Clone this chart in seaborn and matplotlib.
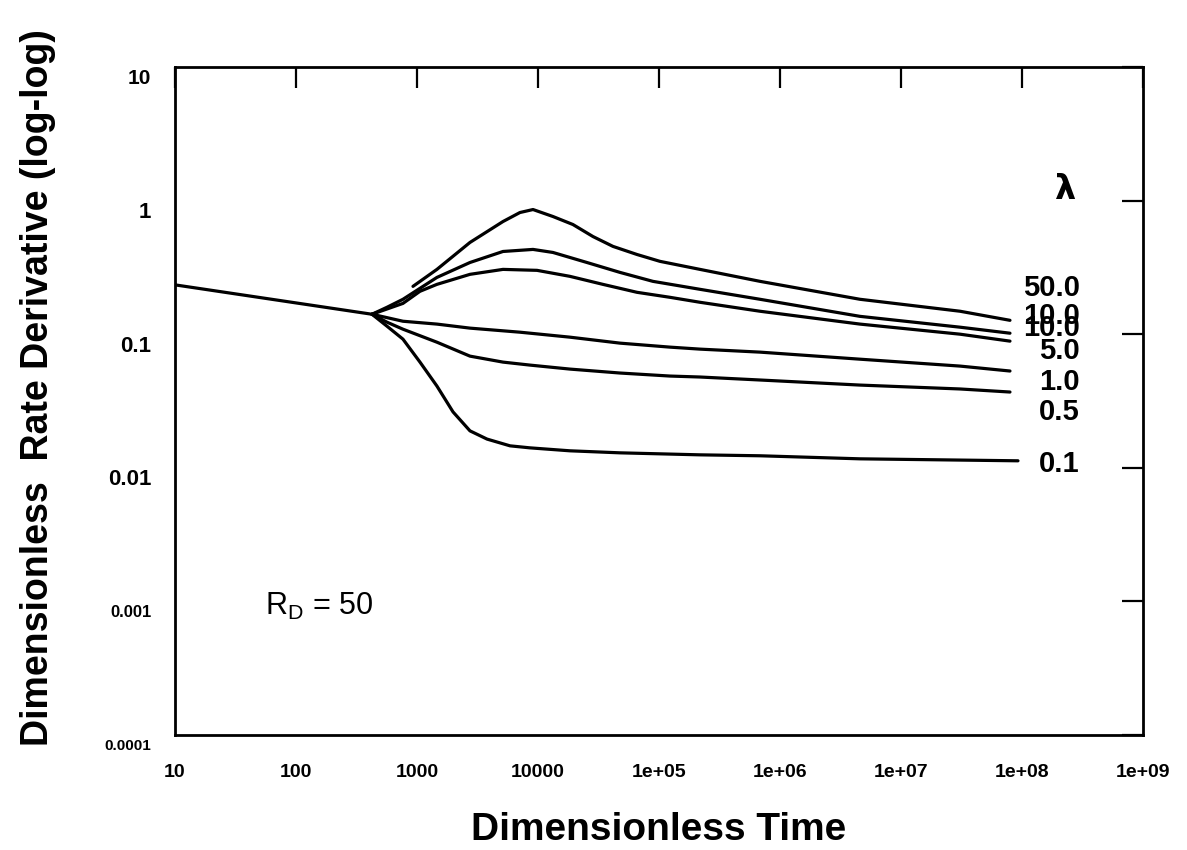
import numpy as np
import pandas as pd
import matplotlib
matplotlib.use("Agg")
import matplotlib.pyplot as plt
import matplotlib.transforms as mtransforms
from matplotlib.ticker import FixedLocator, NullLocator
import seaborn as sns

# ---------------- data ----------------
common_t = [10, 425]
common_q = [0.234, 0.141]

lam50_t = [927, 1462, 2742, 5140, 7096, 9100, 13300, 19450, 28500, 41700, 65800,
           101800, 218300, 684000, 4.58e6, 3.08e7, 7.96e7]
lam50_q = [0.228, 0.3055, 0.486, 0.697, 0.814, 0.857, 0.760, 0.662, 0.538, 0.454, 0.395,
           0.351, 0.3055, 0.2486, 0.1825, 0.1485, 0.127]

lam10a_t = [425, 565, 766, 1462, 2742, 5140, 9100, 13300, 25400, 47640, 89100,
            218300, 684000, 4.58e6, 3.08e7, 7.96e7]
lam10a_q = [0.141, 0.159, 0.1825, 0.266, 0.344, 0.416, 0.431, 0.409, 0.344, 0.290, 0.2486,
            0.2167, 0.1825, 0.136, 0.1128, 0.1017]

lam10b_t = [425, 766, 1059, 1462, 2742, 5140, 9820, 18360, 34430, 65800, 123300,
            218300, 684000, 4.58e6, 3.08e7, 7.96e7]
lam10b_q = [0.141, 0.170, 0.2094, 0.236, 0.2805, 0.3055, 0.3005, 0.271, 0.236, 0.2058, 0.1888,
            0.1733, 0.1485, 0.119, 0.1, 0.0887]

lam5_t = [425, 766, 1462, 2742, 7096, 18360, 47640, 123300, 218300, 684000, 4.58e6, 3.08e7, 7.96e7]
lam5_q = [0.141, 0.125, 0.119, 0.111, 0.1035, 0.095, 0.0857, 0.080, 0.0773, 0.0734, 0.065, 0.0577, 0.053]

lam1_t = [425, 565, 766, 1462, 2742, 5140, 8590, 18360, 47640, 123300, 218300, 684000,
          4.58e6, 3.08e7, 7.96e7]
lam1_q = [0.141, 0.123, 0.109, 0.0871, 0.0685, 0.0618, 0.0587, 0.0548, 0.0512, 0.0486, 0.0478,
          0.0454, 0.0416, 0.0389, 0.0369]

lam01_t = [425, 565, 766, 1059, 1462, 1986, 2742, 3793, 5875, 8590, 18360, 47640, 218300,
           684000, 4.58e6, 9.27e7]
lam01_q = [0.141, 0.1148, 0.0918, 0.0618, 0.0409, 0.0262, 0.0189, 0.0164, 0.0146, 0.0141, 0.0134,
           0.01294, 0.0125, 0.0123, 0.01167, 0.01128]

curve_names = ["common", "50", "10a", "10b", "5", "1", "0.1"]
curve_t = [common_t, lam50_t, lam10a_t, lam10b_t, lam5_t, lam1_t, lam01_t]
curve_q = [common_q, lam50_q, lam10a_q, lam10b_q, lam5_q, lam1_q, lam01_q]

lam_labels = ["50.0", "10.0", "10.0", "5.0", "1.0", "0.5", "0.1"]
lam_label_y = [0.220, 0.136, 0.111, 0.0747, 0.0438, 0.0262, 0.0107]

x_ticks = [10, 100, 1000, 10000, 1e5, 1e6, 1e7, 1e8, 1e9]
x_tick_labels = ["10", "100", "1000", "10000", "1e+05", "1e+06", "1e+07", "1e+08", "1e+09"]
y_ticks = [1e-4, 1e-3, 1e-2, 1e-1, 1, 10]
y_tick_labels = ["0.0001", "0.001", "0.01", "0.1", "1", "10"]
y_tick_sizes = [11, 12, 16, 16, 16, 15]

# ---------------- figure ----------------
sns.set_theme(style="white")
plt.rcParams["font.family"] = ["Liberation Sans", "DejaVu Sans"]
for key in ["text.color", "axes.labelcolor", "xtick.color", "ytick.color", "axes.edgecolor"]:
    plt.rcParams[key] = "black"

fig = plt.figure(figsize=(11.87, 8.5), dpi=100)
ax = fig.add_axes([0.1474, 0.1353, 0.8155, 0.7859])

frames = []
for name, t, q in zip(curve_names, curve_t, curve_q):
    frames.append(pd.DataFrame({"t": t, "q": q, "curve": name}))
df = pd.concat(frames, ignore_index=True)

sns.lineplot(data=df, x="t", y="q", hue="curve", units="curve", estimator=None,
             sort=False, palette=["black"] * len(curve_names), linewidth=2.3,
             legend=False, ax=ax)

ax.set_xscale("log")
ax.set_yscale("log")
ax.set_xlim(10, 1e9)
ax.set_ylim(1e-4, 10)

ax.xaxis.set_major_locator(FixedLocator(x_ticks))
ax.yaxis.set_major_locator(FixedLocator(y_ticks))
ax.xaxis.set_minor_locator(NullLocator())
ax.yaxis.set_minor_locator(NullLocator())
ax.set_xticklabels(x_tick_labels, fontsize=14, fontweight="bold")
ax.set_yticklabels(y_tick_labels, fontweight="bold")
for lab, fs in zip(ax.get_yticklabels(), y_tick_sizes):
    lab.set_fontsize(fs)

ax.tick_params(axis="both", which="major", direction="in", length=15, width=1.6,
               top=True, right=True, colors="black")
ax.tick_params(axis="x", pad=21)
ax.tick_params(axis="y", pad=17)

# y tick labels sit a bit below their ticks in the reference
offset = mtransforms.ScaledTranslation(0, -0.095, fig.dpi_scale_trans)
for lab in ax.get_yticklabels():
    lab.set_transform(lab.get_transform() + offset)

for side in ["left", "right", "top", "bottom"]:
    ax.spines[side].set_visible(True)
    ax.spines[side].set_color("black")
    ax.spines[side].set_linewidth(2.0)

ax.set_xlabel("Dimensionless Time", fontsize=28, fontweight="bold", labelpad=22)
ax.set_ylabel("Dimensionless  Rate Derivative (log-log)", fontsize=27,
              fontweight="bold")
ax.yaxis.set_label_coords(-0.123, 0.52)

# curve labels (lambda)
for lab, yv in zip(lam_labels, lam_label_y):
    ax.text(3.0e8, yv, lab, ha="right", va="center", fontsize=21,
            fontweight="bold", color="black")
ax.text(2.26e8, 1.21, "λ", ha="center", va="center", fontsize=24,
        fontweight="bold", color="black", family=["DejaVu Sans"])

ax.text(55, 0.00091, r"$\mathregular{R_D}$ = 50", ha="left", va="center",
        fontsize=22, color="black")

fig.savefig("out.png", dpi=100)
